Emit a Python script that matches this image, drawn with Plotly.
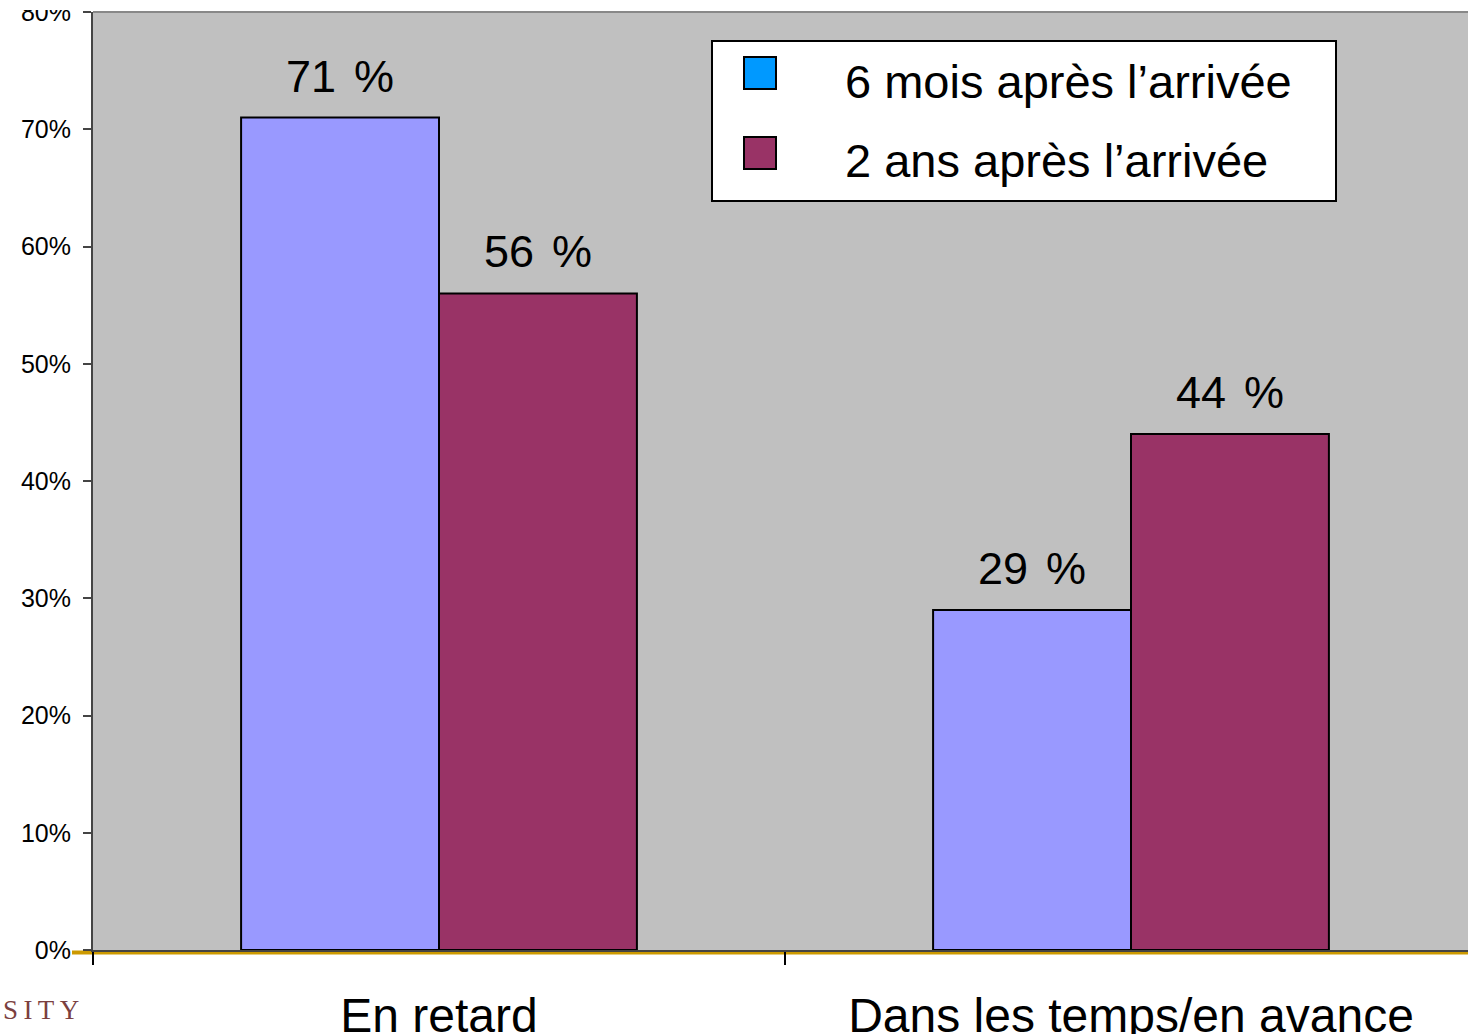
import plotly.graph_objects as go

# ---- data ----
categories = ["En retard", "Dans les temps/en avance"]
series_names = ["6 mois après l\u2019arrivée", "2 ans après l\u2019arrivée"]
six_months = [71, 29]
two_years = [56, 44]
y_tick_values = [0, 10, 20, 30, 40, 50, 60, 70, 80]
y_tick_labels = [f"{v}%" for v in y_tick_values]

# ---- style ----
bar_colors = ["#9999FF", "#993366"]
legend_swatch_colors = ["#0099FF", "#993366"]
FONT = "Liberation Sans, Arial, sans-serif"
W, H = 1468, 1034
L, R, T, B = 93, 0, 12, 84
PW, PH = W - L - R, H - T - B
BARGAP = 0.428


def px_x(x):
    return (x - L) / PW


def px_y(y):
    return (H - B - y) / PH


fig = go.Figure()
series = [six_months, two_years]
for name, vals, col in zip(series_names, series, bar_colors):
    fig.add_trace(go.Bar(
        x=categories, y=vals, name=name, showlegend=False,
        marker=dict(color=col, line=dict(color="black", width=2)),
        hoverinfo="skip",
    ))

annotations = []
half = (1 - BARGAP) / 4
for s, vals in enumerate(series):
    off = -half if s == 0 else half
    for i, v in enumerate(vals):
        annotations.append(dict(
            x=i + off, y=v, xref="x", yref="y", text=f"{v}\u2009\u2009%",
            showarrow=False, yanchor="bottom", xanchor="center", yshift=14,
            font=dict(family=FONT, size=45, color="black"),
        ))

# legend (drawn manually to get the large square swatches)
shapes = [
    dict(type="rect", xref="paper", yref="paper",
         x0=px_x(712), x1=px_x(1336), y0=px_y(201), y1=px_y(41),
         fillcolor="white", line=dict(color="black", width=2), layer="above"),
]
for k, (name, col) in enumerate(zip(series_names, legend_swatch_colors)):
    yc = 73 + 80 * k
    shapes.append(dict(type="rect", xref="paper", yref="paper",
                       x0=px_x(744), x1=px_x(776), y0=px_y(yc + 16), y1=px_y(yc - 16),
                       fillcolor=col, line=dict(color="black", width=2), layer="above"))
    annotations.append(dict(
        x=px_x(843), y=px_y(yc + 8), xref="paper", yref="paper", text=name,
        showarrow=False, xanchor="left", yanchor="middle",
        font=dict(family=FONT, size=47, color="black"),
    ))

# axis decorations
shapes += [
    # golden baseline
    dict(type="line", xref="paper", yref="paper", x0=px_x(72), x1=1.0,
         y0=px_y(952.5), y1=px_y(952.5), line=dict(color="#CC9900", width=4), layer="below"),
    # y-axis extension below baseline
    dict(type="line", xref="paper", yref="paper", x0=0, x1=0,
         y0=px_y(950), y1=px_y(963), line=dict(color="#333333", width=2), layer="below"),
    # top border
    dict(type="line", xref="paper", yref="paper", x0=0, x1=1,
         y0=1, y1=1, line=dict(color="#888888", width=2), layer="above"),
    # mask over top clipped label
    dict(type="rect", xref="paper", yref="paper", x0=px_x(0), x1=px_x(91),
         y0=px_y(10), y1=px_y(-5), fillcolor="white", line=dict(width=0), layer="above"),
]

annotations.append(dict(
    x=px_x(1), y=px_y(1010), xref="paper", yref="paper",
    text="S\u2009I\u2009T\u2009Y",
    showarrow=False, xanchor="left", yanchor="middle",
    font=dict(family="Liberation Serif, Times New Roman, serif", size=27, color="#7B3F3F"),
))

fig.update_layout(
    width=W, height=H, autosize=False,
    margin=dict(l=L, r=R, t=T, b=B, pad=0, autoexpand=False),
    paper_bgcolor="white", plot_bgcolor="#C0C0C0",
    barmode="group", bargap=BARGAP, bargroupgap=0,
    showlegend=False,
    annotations=annotations, shapes=shapes,
    font=dict(family=FONT, color="black"),
)
fig.update_xaxes(
    type="category", range=[-0.5, -0.5 + PW / 692], tickson="boundaries",
    automargin=False,
    ticks="outside", ticklen=13, tickwidth=2, tickcolor="black",
    showline=True, linecolor="#444444", linewidth=2,
    showgrid=False, zeroline=False,
    tickfont=dict(family=FONT, size=48, color="black"), ticklabelstandoff=22,
)
fig.update_yaxes(
    range=[0, 80], tickmode="array", tickvals=y_tick_values, ticktext=y_tick_labels,
    ticklabeloverflow="allow", automargin=False,
    ticks="outside", ticklen=8, tickwidth=2, tickcolor="#444444",
    showline=True, linecolor="#444444", linewidth=2,
    showgrid=False, zeroline=False,
    tickfont=dict(family=FONT, size=25, color="black"), ticklabelstandoff=7,
)

fig.write_html(
    "out.html",
    config={"displayModeBar": False},
    post_script="document.body.style.margin='0';document.documentElement.style.overflow='hidden';",
)
